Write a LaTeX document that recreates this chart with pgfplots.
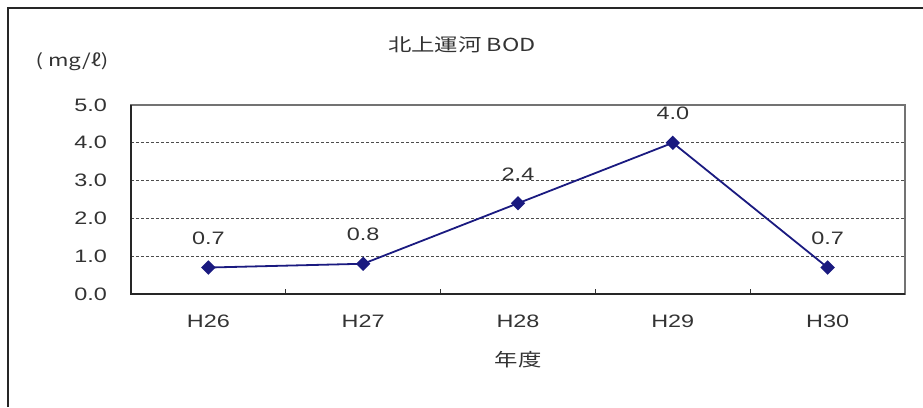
\documentclass[border=0pt]{standalone}
\usepackage{pgfplots}
\pgfplotsset{compat=1.18}
\usepackage{fontspec}
\setmainfont{Liberation Sans}[FakeStretch=1.3]
\newfontfamily\cjk{Noto Sans CJK JP}[FakeStretch=1.3]
\definecolor{txt}{HTML}{333333}
\definecolor{navyline}{HTML}{1A1A80}
\begin{document}
\begin{tikzpicture}[x=1pt,y=1pt]
\begin{axis}[
  at={(0,0)}, anchor=south west,
  scale only axis, width=774pt, height=189pt,
  xmin=-0.5, xmax=4.5, ymin=0, ymax=5,
  xtick={0,1,2,3,4},
  xticklabels={H26,H27,H28,H29,H30},
  minor xtick={0.5,1.5,2.5,3.5},
  ytick={0,1,2,3,4,5},
  tick pos=left, tick align=inside,
  major tick length=0pt, minor tick length=5pt,
  tick style={black!80, line width=1pt},
  ymajorgrids,
  grid style={densely dashed, black!70, line width=0.7pt},
  axis line style={black!55, line width=1.2pt},
  /pgf/number format/assume math mode=true,
  ticklabel style={font=\fontsize{18}{20}\selectfont, text=txt},
  xticklabel style={anchor=north, inner sep=0pt, yshift=-21pt},
  yticklabel style={anchor=east, inner sep=0pt, xshift=-24pt,
    /pgf/number format/fixed, /pgf/number format/fixed zerofill, /pgf/number format/precision=1},
  clip=false,
  nodes near coords={\pgfmathprintnumber[fixed,fixed zerofill,precision=1,assume math mode=true]{\pgfplotspointmeta}},
  every node near coord/.append style={font=\fontsize{18}{20}\selectfont, text=txt, anchor=south, inner sep=0pt, yshift=22pt},
]
\addplot[navyline, line width=1.8pt, mark=square*, mark size=4.2pt,
  mark options={rotate=45, solid, fill=navyline}]
  coordinates {(0,0.7) (1,0.8) (2,2.4) (3,4.0) (4,0.7)};
\draw[black!85, line width=1.5pt] (rel axis cs:0,1) -- (rel axis cs:0,0) -- (rel axis cs:1,0);
\end{axis}
\node[font=\cjk\fontsize{18}{20}\selectfont, text=txt] at (331,249) {北上運河 BOD};
\node[font=\cjk\fontsize{17}{20}\selectfont, text=txt] at (-59,232) {( mg/ℓ)};
\node[font=\cjk\fontsize{18}{20}\selectfont, text=txt] at (387,-66) {年度};
\draw[black!85, line width=1.5pt] (-123,-113) -- (-123,286) -- (792,286);
\pgfresetboundingbox
\path[use as bounding box] (-131,-113) rectangle (792,294);
\end{tikzpicture}
\end{document}
